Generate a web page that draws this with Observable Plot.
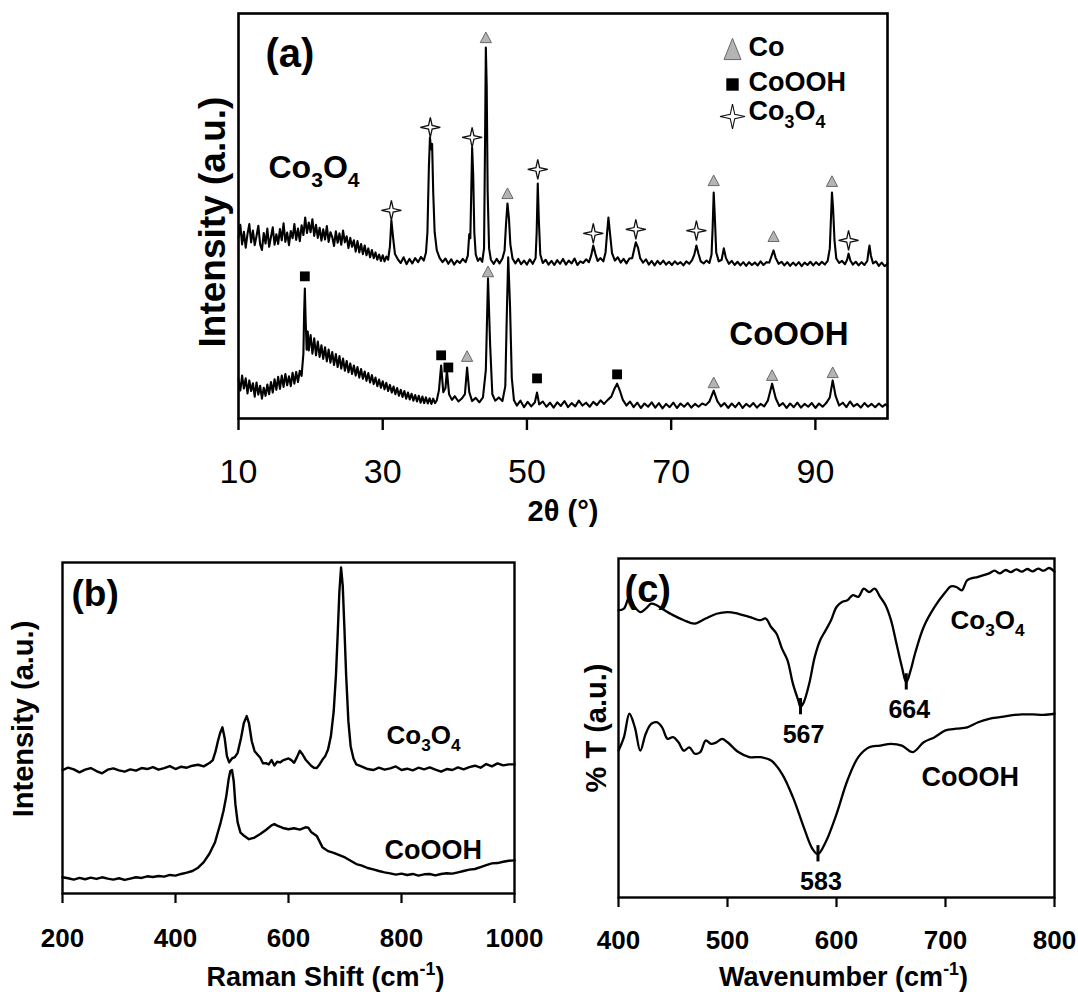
<!DOCTYPE html>
<html><head><meta charset="utf-8">
<script src="https://cdn.jsdelivr.net/npm/d3@7"></script>
<script src="https://cdn.jsdelivr.net/npm/@observablehq/plot@0.6"></script>
<style>
body{margin:0;background:#fff;}
#fig{position:relative;width:1078px;height:992px;overflow:hidden;background:#fff;}
#fig svg{position:absolute;overflow:visible;max-width:none;}
</style></head><body><div id="fig"></div>
<script>
// ---------- DATA ----------
const ticksA = [10, 30, 50, 70, 90];
const ticksB = [200, 400, 600, 800, 1000];
const ticksC = [400, 500, 600, 700, 800];

// (a) XRD, 2θ (°) vs intensity (a.u.)
const xrdCo3O4 = [
[10,44.6],[10.25,47.8],[10.5,43.0],[10.75,46.1],[11,42.2],[11.25,45.6],[11.5,48.0],[11.75,43.5],[12,46.4],[12.25,42.8],[12.5,45.1],[12.75,47.6],[13,43.0],[13.25,41.6],[13.5,45.8],[13.75,43.2],[14,46.9],[14.25,42.4],[14.5,44.8],[14.75,47.2],[15,42.9],[15.25,45.5],[15.5,43.1],[15.75,46.8],[16,44.0],[16.25,48.2],[16.5,43.6],[16.75,45.9],[17,42.8],[17.25,46.3],[17.5,44.5],[17.75,48.0],[18,44.1],[18.25,46.9],[18.5,43.8],[18.75,47.7],[19,45.3],[19.25,49.6],[19.5,45.8],[19.75,48.4],[20,46.0],[20.25,49.2],[20.5,45.1],[20.75,47.8],[21,44.6],[21.25,47.1],[21.5,43.9],[21.75,46.7],[22,44.2],[22.25,47.5],[22.5,43.6],[22.75,46.0],[23,44.8],[23.25,42.6],[23.5,46.2],[23.75,43.4],[24,45.7],[24.25,42.9],[24.5,46.4],[24.75,43.5],[25,45.0],[25.25,42.1],[25.5,44.6],[25.75,42.4],[26,44.0],[26.25,41.2],[26.5,43.8],[26.75,41.0],[27,43.1],[27.25,40.6],[27.5,42.7],[27.75,40.3],[28,42.0],[28.25,39.8],[28.5,41.6],[28.75,39.6],[29,41.0],[29.25,39.2],[29.5,40.5],[29.75,38.9],[30,40.3],[30.25,38.8],[30.5,40.0],[30.75,39.2],[31.0,42.5],[31.2,48.9],[31.45,44.5],[31.7,40.6],[32.1,39.3],[32.5,38.4],[32.9,39.8],[33.3,38.1],[33.7,39.4],[34.1,38.3],[34.5,39.6],[34.9,38.6],[35.3,39.9],[35.7,39.0],[36.0,41.0],[36.2,46.0],[36.4,62.0],[36.55,69.4],[36.7,66.5],[36.85,67.8],[37.0,56.0],[37.2,46.0],[37.5,41.5],[37.9,39.6],[38.3,38.6],[38.7,39.5],[39.1,38.2],[39.5,39.3],[39.9,38.0],[40.3,39.0],[40.7,38.4],[41.1,39.4],[41.5,38.6],[41.8,40.2],[42.0,45.5],[42.15,44.5],[42.3,58.0],[42.4,66.9],[42.55,60.0],[42.7,46.0],[42.9,40.5],[43.2,38.9],[43.5,39.6],[43.8,38.7],[44.05,42.0],[44.2,70.0],[44.3,91.6],[44.42,82.0],[44.55,56.0],[44.75,42.0],[45.0,39.2],[45.4,38.2],[45.8,39.4],[46.2,38.3],[46.6,39.5],[46.9,41.5],[47.1,48.0],[47.3,53.1],[47.5,49.5],[47.7,43.0],[48.0,39.5],[48.4,38.3],[48.8,39.4],[49.2,38.1],[49.6,39.0],[50.0,38.0],[50.4,39.3],[50.8,38.2],[51.2,39.6],[51.35,46.0],[51.5,58.0],[51.65,49.0],[51.85,40.5],[52.2,38.4],[52.6,39.2],[53.0,38.0],[53.4,38.9],[53.8,37.9],[54.2,39.1],[54.6,38.2],[55.0,39.4],[55.4,38.0],[55.8,39.0],[56.2,38.3],[56.6,39.5],[57.0,37.9],[57.4,38.8],[57.8,38.4],[58.2,39.3],[58.6,38.6],[58.9,40.2],[59.2,42.7],[59.5,40.6],[59.8,38.9],[60.2,39.6],[60.6,38.8],[60.9,41.0],[61.1,45.5],[61.3,49.6],[61.5,46.0],[61.8,40.8],[62.2,39.0],[62.6,39.8],[63.0,38.5],[63.4,39.4],[63.8,38.3],[64.2,39.5],[64.6,39.6],[64.9,42.0],[65.1,43.5],[65.4,42.2],[65.7,39.6],[66.1,38.5],[66.5,39.3],[66.9,38.0],[67.3,38.9],[67.7,37.8],[68.1,38.9],[68.5,38.1],[68.9,39.0],[69.3,38.0],[69.7,38.7],[70.1,37.9],[70.5,38.8],[70.9,38.1],[71.3,38.6],[71.7,37.8],[72.1,38.8],[72.5,38.2],[72.9,39.1],[73.2,40.4],[73.5,42.7],[73.8,40.6],[74.1,38.8],[74.5,38.3],[74.9,39.0],[75.3,38.4],[75.6,40.5],[75.75,47.0],[75.9,55.8],[76.05,50.0],[76.25,41.0],[76.6,38.8],[77.0,39.2],[77.3,42.0],[77.6,39.6],[78.0,38.2],[78.4,38.9],[78.8,37.9],[79.2,38.7],[79.6,37.8],[80.0,38.6],[80.4,37.7],[80.8,38.6],[81.2,37.9],[81.6,38.5],[82.0,37.8],[82.4,38.8],[82.8,37.9],[83.2,38.6],[83.6,38.5],[83.9,40.0],[84.2,41.5],[84.5,39.6],[84.9,38.2],[85.3,38.7],[85.7,37.8],[86.1,38.6],[86.5,37.7],[86.9,38.5],[87.3,37.8],[87.7,38.6],[88.1,37.6],[88.5,38.5],[88.9,37.9],[89.3,38.7],[89.7,37.8],[90.1,38.6],[90.5,37.9],[90.9,38.7],[91.3,38.0],[91.7,38.9],[92.0,42.0],[92.15,49.0],[92.3,55.8],[92.45,52.0],[92.65,44.0],[92.9,39.5],[93.3,38.4],[93.7,38.9],[94.1,38.1],[94.4,39.2],[94.6,40.7],[94.85,39.0],[95.2,38.0],[95.6,38.7],[96.0,37.8],[96.4,38.6],[96.8,37.9],[97.2,38.9],[97.35,41.0],[97.5,42.7],[97.7,40.2],[98.0,38.3],[98.4,38.8],[98.8,37.7],[99.2,38.5],[99.6,37.6],[100,38.2]
];
const xrdCoOOH = [
[10,9.8],[10.25,6.9],[10.5,10.6],[10.75,7.4],[11,9.9],[11.25,6.2],[11.5,9.4],[11.75,6.8],[12,8.7],[12.25,5.4],[12.5,8.9],[12.75,5.9],[13,8.1],[13.25,4.9],[13.5,7.6],[13.75,5.6],[14,8.4],[14.25,6.0],[14.5,9.0],[14.75,6.4],[15,9.7],[15.25,7.1],[15.5,10.3],[15.75,7.3],[16,10.6],[16.25,7.8],[16.5,11.0],[16.75,8.2],[17,10.4],[17.25,8.0],[17.5,11.3],[17.75,8.6],[18,11.5],[18.25,9.0],[18.5,11.8],[18.75,10.5],[19.0,16.0],[19.1,26.0],[19.2,32.1],[19.3,25.0],[19.45,17.0],[19.6,21.5],[19.75,16.8],[20,20.6],[20.25,16.0],[20.5,19.8],[20.75,15.6],[21,19.0],[21.25,15.2],[21.5,18.1],[21.75,14.7],[22,17.6],[22.25,14.1],[22.5,17.0],[22.75,13.8],[23,16.4],[23.25,13.2],[23.5,15.9],[23.75,12.7],[24,15.4],[24.25,12.3],[24.5,14.8],[24.75,11.8],[25,14.2],[25.25,11.4],[25.5,13.6],[25.75,11.0],[26,13.1],[26.25,10.6],[26.5,12.7],[26.75,10.1],[27,12.2],[27.25,9.8],[27.5,11.6],[27.75,9.3],[28,11.2],[28.25,8.9],[28.5,10.7],[28.75,8.5],[29,10.1],[29.25,8.0],[29.5,9.6],[29.75,7.6],[30,9.2],[30.25,7.2],[30.5,8.8],[30.75,6.8],[31,8.3],[31.25,6.4],[31.5,7.9],[31.75,6.0],[32,7.5],[32.25,5.6],[32.5,7.1],[32.75,5.3],[33,6.8],[33.25,4.9],[33.5,6.4],[33.75,4.7],[34,6.1],[34.25,4.4],[34.5,5.8],[34.75,4.2],[35,5.6],[35.25,3.9],[35.5,5.4],[35.75,3.8],[36,5.2],[36.25,3.7],[36.5,5.0],[36.75,3.6],[37,4.9],[37.25,3.8],[37.5,4.5],[37.8,7.0],[38.1,13.1],[38.4,6.5],[38.7,7.5],[38.9,11.9],[39.2,6.0],[39.6,4.6],[40.0,5.5],[40.5,4.2],[41.0,5.0],[41.4,6.0],[41.7,12.6],[42.0,6.5],[42.4,4.3],[42.9,5.1],[43.4,4.0],[43.9,5.2],[44.3,12.0],[44.6,34.6],[44.9,18.0],[45.2,6.0],[45.6,4.4],[46.1,5.2],[46.6,4.3],[47.0,8.0],[47.2,25.0],[47.4,39.8],[47.65,28.0],[47.9,10.0],[48.2,4.5],[48.6,3.2],[49.1,4.4],[49.6,2.8],[50.1,4.1],[50.6,3.0],[51.1,4.0],[51.4,6.4],[51.7,3.5],[52.2,4.2],[52.7,2.9],[53.2,3.9],[53.7,2.7],[54.2,4.0],[54.7,3.1],[55.2,4.3],[55.7,2.8],[56.2,3.8],[56.7,3.0],[57.2,4.4],[57.7,3.2],[58.2,3.9],[58.7,2.9],[59.2,4.1],[59.7,3.3],[60.2,4.5],[60.7,3.6],[61.2,4.6],[61.7,5.4],[62.1,7.2],[62.5,8.6],[62.9,6.8],[63.3,4.6],[63.8,3.2],[64.3,4.2],[64.8,2.8],[65.3,3.9],[65.8,2.6],[66.3,3.7],[66.8,2.9],[67.3,4.0],[67.8,2.7],[68.3,3.8],[68.8,2.5],[69.3,3.6],[69.8,2.8],[70.3,3.9],[70.8,2.6],[71.3,3.7],[71.8,2.9],[72.3,3.8],[72.8,2.7],[73.3,3.6],[73.8,2.9],[74.3,3.7],[74.8,3.3],[75.3,4.2],[75.9,6.9],[76.4,4.3],[76.9,3.0],[77.4,3.8],[77.9,2.6],[78.4,3.7],[78.9,2.8],[79.4,3.9],[79.9,2.6],[80.4,3.6],[80.9,2.9],[81.4,3.8],[81.9,2.7],[82.4,3.6],[82.9,3.0],[83.4,4.4],[84.0,8.6],[84.5,5.0],[85.0,3.1],[85.5,3.8],[86.0,2.6],[86.5,3.7],[87.0,2.8],[87.5,3.9],[88.0,2.7],[88.5,3.6],[89.0,2.9],[89.5,3.8],[90.0,2.6],[90.5,3.7],[91.0,2.9],[91.5,3.8],[92.0,5.2],[92.4,9.4],[92.8,5.6],[93.3,3.2],[93.8,3.9],[94.3,2.8],[94.8,4.2],[95.3,3.0],[95.8,3.6],[96.3,2.7],[96.8,3.8],[97.3,2.9],[97.8,3.6],[98.3,2.8],[98.8,3.7],[99.3,2.9],[99.7,3.5],[100,3.0]
];
// phase markers (2θ, intensity, phase)
const xrdMarkers = [
{x:31.2,y:51.4,phase:"Co3O4"},{x:36.6,y:71.9,phase:"Co3O4"},{x:42.4,y:69.4,phase:"Co3O4"},
{x:44.3,y:93.8,phase:"Co"},{x:47.3,y:55.3,phase:"Co"},{x:51.5,y:61.5,phase:"Co3O4"},
{x:59.2,y:45.7,phase:"Co3O4"},{x:65.1,y:46.7,phase:"Co3O4"},{x:73.5,y:46.4,phase:"Co3O4"},
{x:75.9,y:58.5,phase:"Co"},{x:84.2,y:44.7,phase:"Co"},{x:92.3,y:58.3,phase:"Co"},
{x:94.6,y:44.0,phase:"Co3O4"},
{x:19.2,y:35.1,phase:"CoOOH"},{x:38.1,y:15.6,phase:"CoOOH"},{x:39.1,y:12.6,phase:"CoOOH"},
{x:41.7,y:15.1,phase:"Co"},{x:44.6,y:36.0,phase:"Co"},{x:51.4,y:9.9,phase:"CoOOH"},
{x:62.5,y:10.9,phase:"CoOOH"},{x:75.9,y:8.6,phase:"Co"},{x:84.0,y:10.4,phase:"Co"},
{x:92.4,y:11.1,phase:"Co"}
];
const legendPhases = ["Co", "CoOOH", "Co3O4"];

// (b) Raman, shift (cm-1) vs intensity (a.u.)
const ramanCo3O4 = [
[200,37.3],[210,38.0],[220,37.5],[230,36.6],[240,37.4],[250,37.9],[260,37.0],[270,36.3],[280,37.4],[290,37.8],[300,37.2],[310,36.8],[320,37.5],[330,37.1],[340,37.9],[350,37.6],[360,38.2],[370,37.4],[380,37.9],[390,38.5],[400,37.6],[410,38.3],[420,38.0],[430,38.6],[440,38.9],[450,38.4],[460,39.4],[466,40.3],[471,43.0],[475,46.0],[479,48.5],[483,50.2],[487,47.0],[491,41.5],[495,39.6],[500,40.8],[505,41.2],[510,42.5],[516,47.0],[521,51.5],[526,53.6],[530,51.5],[535,46.0],[540,43.0],[545,42.0],[550,41.0],[555,39.3],[560,39.4],[565,39.0],[570,40.3],[575,38.7],[580,39.8],[585,39.6],[590,40.2],[600,40.8],[605,40.3],[610,39.5],[615,41.2],[620,43.1],[625,42.0],[630,40.5],[640,38.6],[645,38.0],[650,37.9],[655,39.0],[660,40.4],[665,41.5],[670,43.5],[675,47.5],[680,55.0],[684,66.0],[687,78.0],[690,91.0],[693,98.5],[696,93.0],[699,80.0],[702,66.0],[706,52.0],[710,44.5],[715,40.8],[720,39.0],[730,38.3],[740,37.6],[750,37.3],[760,38.0],[770,37.4],[780,37.8],[790,38.4],[800,37.3],[810,37.7],[820,37.2],[830,38.0],[840,37.5],[850,38.1],[860,37.4],[870,36.8],[880,37.6],[890,37.3],[900,38.1],[910,37.5],[920,38.2],[930,38.6],[940,38.0],[950,39.1],[960,38.4],[970,39.3],[980,38.7],[990,39.0],[1000,39.0]
];
const ramanCoOOH = [
[200,4.9],[210,4.6],[220,4.2],[230,4.7],[240,4.3],[250,4.8],[260,4.4],[270,4.9],[280,4.5],[290,4.2],[300,4.6],[310,4.1],[320,4.5],[330,4.9],[340,4.7],[350,5.2],[360,5.0],[370,5.3],[380,5.1],[390,5.6],[400,5.4],[410,5.9],[420,6.3],[430,6.8],[440,7.8],[450,9.5],[460,12.0],[470,15.5],[475,18.5],[480,21.5],[485,25.0],[490,29.5],[494,34.5],[497,37.0],[500,37.3],[503,34.0],[506,27.0],[510,21.5],[515,18.4],[520,17.6],[530,16.4],[540,16.9],[550,18.0],[560,19.2],[570,20.6],[575,21.0],[580,20.5],[590,19.8],[600,19.4],[610,19.7],[620,19.3],[630,20.0],[635,19.9],[640,18.6],[650,17.4],[660,14.0],[670,12.8],[680,12.3],[690,11.6],[700,10.9],[710,9.9],[720,8.9],[730,8.4],[740,7.7],[750,7.3],[760,6.8],[770,6.4],[780,6.1],[790,5.7],[800,6.0],[810,5.6],[820,5.9],[830,5.4],[840,5.8],[850,5.9],[860,5.5],[870,5.9],[880,6.1],[890,6.0],[900,6.4],[910,6.8],[920,7.2],[930,7.4],[940,8.0],[950,8.6],[960,9.1],[970,9.2],[980,9.6],[990,9.9],[1000,10.0]
];

// (c) FTIR, wavenumber (cm-1) vs % T (a.u.)
const ftirCo3O4 = [
[400,84.7],[405,85.2],[410,88.7],[415,85.7],[420,84.2],[425,85.2],[430,86.7],[435,86.2],[440,85.2],[450,83.3],[460,81.8],[470,80.8],[480,82.3],[490,83.7],[500,84.2],[510,83.7],[520,82.8],[530,81.8],[535,82.3],[540,79.8],[545,77.8],[550,73.4],[555,70.0],[560,63.1],[565,58.1],[567,56.2],[570,57.6],[575,63.1],[580,70.9],[585,75.9],[590,78.8],[595,81.8],[600,85.7],[605,87.2],[610,87.7],[615,89.2],[620,88.7],[625,91.1],[630,90.1],[635,91.1],[640,88.7],[645,86.2],[650,81.8],[655,74.9],[660,68.0],[664,63.5],[668,67.0],[672,71.9],[680,79.8],[690,85.7],[700,90.1],[705,91.8],[710,91.6],[715,90.6],[720,93.6],[730,94.6],[740,95.6],[745,96.4],[750,95.6],[755,96.6],[760,96.0],[765,96.8],[770,96.1],[775,96.9],[780,96.2],[785,97.0],[790,96.4],[795,97.2],[800,96.1]
];
const ftirCoOOH = [
[400,43.3],[405,47.3],[410,54.2],[415,50.2],[420,43.3],[425,48.3],[430,51.2],[435,51.7],[440,50.2],[445,46.8],[450,47.3],[455,45.8],[460,43.3],[465,44.3],[470,42.4],[475,42.9],[480,46.3],[485,45.3],[490,45.8],[495,46.8],[500,45.8],[510,42.9],[520,41.4],[530,41.4],[540,40.4],[550,36.5],[560,29.6],[570,20.7],[578,14.3],[583,12.8],[590,16.3],[600,24.6],[610,34.5],[620,41.4],[630,44.3],[640,44.8],[650,45.3],[660,44.8],[670,42.9],[680,45.8],[690,47.3],[700,49.3],[710,49.8],[720,50.2],[730,51.7],[740,52.7],[750,53.2],[760,53.7],[770,54.0],[780,54.0],[790,53.9],[800,54.2]
];
const ftirPeaks = [
{wn:567, series:"Co3O4"}, {wn:664, series:"Co3O4"}, {wn:583, series:"CoOOH"}
];

// ---------- RENDER ----------
const FONT = '"Liberation Sans", Arial, Helvetica, sans-serif';
const fig = document.getElementById("fig");
const fmt = d => String(d);

function tri(k){return {draw(ctx,size){const r=Math.sqrt(size/Math.PI),h=2*r*k;ctx.moveTo(0,-h*0.62);ctx.lineTo(r,h*0.38);ctx.lineTo(-r,h*0.38);ctx.closePath();}};}
const sq = {draw(ctx,size){const r=Math.sqrt(size/Math.PI);ctx.rect(-r,-r,2*r,2*r);}};
const star4 = {draw(ctx,size){const R=Math.sqrt(size/Math.PI),q=R*0.18;ctx.moveTo(0,-R);ctx.lineTo(q,-q);ctx.lineTo(R,0);ctx.lineTo(q,q);ctx.lineTo(0,R);ctx.lineTo(-q,q);ctx.lineTo(-R,0);ctx.lineTo(-q,-q);ctx.closePath();}};

const markStyle = {
  Co:    {symbol: tri(0.95), r: 5.6, fill: "#b4b4b4", stroke: "#6a6a6a", strokeWidth: 1},
  CoOOH: {symbol: sq, r: 4.9, fill: "#000", stroke: "none"},
  Co3O4: {symbol: star4, r: 10, fill: "#fff", stroke: "#111", strokeWidth: 1.3}
};
const legendStyle = {
  Co:    {symbol: tri(1.25), r: 8.5, fill: "#b4b4b4", stroke: "#6a6a6a", strokeWidth: 1},
  CoOOH: {symbol: sq, r: 6.2, fill: "#000", stroke: "none"},
  Co3O4: {symbol: star4, r: 12.5, fill: "#fff", stroke: "#111", strokeWidth: 1.1}
};
const legendLabel = {Co: "Co", CoOOH: "CoOOH", Co3O4: "Co_{3}O_{4}"};

function label(str, opts){ return Plot.text([str], {text: d => d, lineAnchor: "middle", fill: "#000", ...opts}); }

function place(svg, left, top){ svg.style.left = left + "px"; svg.style.top = top + "px"; fig.appendChild(svg); rich(svg); }

function rich(svg){
  const ns = "http://www.w3.org/2000/svg";
  svg.querySelectorAll("text").forEach(t => {
    const s = t.textContent;
    if (!/[_^]\{/.test(s)) return;
    const fs = parseFloat(getComputedStyle(t).fontSize) || 20;
    while (t.firstChild) t.removeChild(t.firstChild);
    let shift = 0;
    const add = (str, kind) => {
      const ts = document.createElementNS(ns, "tspan");
      ts.textContent = str;
      const target = kind === "_" ? fs * 0.28 : kind === "^" ? -fs * 0.42 : 0;
      ts.setAttribute("dy", (target - shift).toFixed(2));
      shift = target;
      if (kind) ts.setAttribute("font-size", (fs * 0.66).toFixed(1));
      t.appendChild(ts);
    };
    const re = /([_^])\{([^}]*)\}/g; let last = 0, m;
    while ((m = re.exec(s))) { if (m.index > last) add(s.slice(last, m.index), null); add(m[2], m[1]); last = re.lastIndex; }
    if (last < s.length) add(s.slice(last), null);
  });
}

// ---- panel (a)
const legendMarks = legendPhases.flatMap((p, i) => [
  Plot.dot([p], {frameAnchor: "top-right", dx: -155, dy: [38, 71, 103][i], ...legendStyle[p]}),
  label(legendLabel[p], {frameAnchor: "top-right", textAnchor: "start", dx: -139, dy: [34, 69, 98][i], fontSize: 27, fontWeight: "bold"})
]);
const plotA = Plot.plot({
  width: 1078, height: 520, marginLeft: 238, marginRight: 191, marginTop: 13, marginBottom: 102,
  x: {domain: [10, 100]}, y: {domain: [0, 100], axis: null},
  style: {fontFamily: FONT, background: "transparent", overflow: "visible"},
  marks: [
    Plot.line(xrdCo3O4, {x: d => d[0], y: d => d[1], stroke: "#000", strokeWidth: 2.1}),
    Plot.line(xrdCoOOH, {x: d => d[0], y: d => d[1], stroke: "#000", strokeWidth: 2.1}),
    ...["Co", "CoOOH", "Co3O4"].map(p => Plot.dot(xrdMarkers.filter(d => d.phase === p), {x: "x", y: "y", ...markStyle[p]})),
    ...legendMarks,
    Plot.frame({stroke: "#000", strokeWidth: 2.6}),
    Plot.axisX({ticks: ticksA, tickFormat: fmt, tickSize: 12, tickPadding: 28, fontSize: 34, label: null, strokeWidth: 2.4}),
    label("(a)", {frameAnchor: "top-left", textAnchor: "start", dx: 27, dy: 41, fontSize: 40, fontWeight: "bold"}),
    label("Co_{3}O_{4}", {frameAnchor: "top-left", textAnchor: "start", dx: 30, dy: 154, fontSize: 32, fontWeight: "bold"}),
    label("CoOOH", {frameAnchor: "top-right", textAnchor: "end", dx: -39, dy: 321, fontSize: 33, fontWeight: "bold"}),
    label("Intensity (a.u.)", {frameAnchor: "left", textAnchor: "middle", rotate: -90, dx: -25, dy: 6, fontSize: 37, fontWeight: "bold"}),
    label("2θ (°)", {frameAnchor: "bottom", textAnchor: "middle", dy: 93, fontSize: 29, fontWeight: "bold"})
  ]
});
place(plotA, 0, 0);

// ---- panel (b)
const plotB = Plot.plot({
  width: 540, height: 472, marginLeft: 62, marginRight: 26, marginTop: 42, marginBottom: 99,
  x: {domain: [200, 1000]}, y: {domain: [0, 100], axis: null},
  style: {fontFamily: FONT, background: "transparent", overflow: "visible"},
  marks: [
    Plot.line(ramanCo3O4, {x: d => d[0], y: d => d[1], stroke: "#000", strokeWidth: 2.4}),
    Plot.line(ramanCoOOH, {x: d => d[0], y: d => d[1], stroke: "#000", strokeWidth: 2.4}),
    Plot.frame({stroke: "#000", strokeWidth: 2.4}),
    Plot.axisX({ticks: ticksB, tickFormat: fmt, tickSize: 10, tickPadding: 25, fontSize: 26, fontWeight: "bold", label: null, strokeWidth: 2.2}),
    label("(b)", {frameAnchor: "top-left", textAnchor: "start", dx: 9, dy: 32, fontSize: 37, fontWeight: "bold"}),
    label("Co_{3}O_{4}", {frameAnchor: "top-left", textAnchor: "start", dx: 324, dy: 173, fontSize: 26, fontWeight: "bold"}),
    label("CoOOH", {frameAnchor: "top-left", textAnchor: "start", dx: 322, dy: 288, fontSize: 27, fontWeight: "bold"}),
    label("Intensity (a.u.)", {frameAnchor: "left", textAnchor: "middle", rotate: -90, dx: -39, dy: -9, fontSize: 29, fontWeight: "bold"}),
    label("Raman Shift (cm^{-1})", {frameAnchor: "bottom", textAnchor: "middle", dx: 37, dy: 84, fontSize: 27, fontWeight: "bold"})
  ]
});
place(plotB, 0, 520);

// ---- panel (c)
const ftirSeries = {Co3O4: ftirCo3O4, CoOOH: ftirCoOOH};
const peaksC = ftirPeaks.map(p => ({...p, v: ftirSeries[p.series].find(d => d[0] === p.wn)[1]}));
const plotC = Plot.plot({
  width: 538, height: 472, marginLeft: 78, marginRight: 24, marginTop: 38, marginBottom: 95,
  x: {domain: [400, 800]}, y: {domain: [0, 100], axis: null},
  style: {fontFamily: FONT, background: "transparent", overflow: "visible"},
  marks: [
    Plot.line(ftirCo3O4, {x: d => d[0], y: d => d[1], stroke: "#000", strokeWidth: 2.3, curve: "catmull-rom"}),
    Plot.line(ftirCoOOH, {x: d => d[0], y: d => d[1], stroke: "#000", strokeWidth: 2.3, curve: "catmull-rom"}),
    Plot.ruleX(peaksC, {x: "wn", y1: d => d.v + 2.5, y2: d => d.v - 2.3, stroke: "#000", strokeWidth: 3}),
    Plot.text(peaksC, {x: "wn", y: "v", text: d => String(d.wn), dx: 3, dy: 28, fontSize: 25, fontWeight: "bold", fill: "#000"}),
    Plot.frame({stroke: "#000", strokeWidth: 2.4}),
    Plot.axisX({ticks: ticksC, tickFormat: fmt, tickSize: 10, tickPadding: 23, fontSize: 26, fontWeight: "bold", label: null, strokeWidth: 2.2}),
    label("(c)", {frameAnchor: "top-left", textAnchor: "start", dx: 6, dy: 31, fontSize: 38, fontWeight: "bold"}),
    label("Co_{3}O_{4}", {frameAnchor: "top-left", textAnchor: "start", dx: 332, dy: 62, fontSize: 26, fontWeight: "bold"}),
    label("CoOOH", {frameAnchor: "top-left", textAnchor: "start", dx: 303, dy: 219, fontSize: 27, fontWeight: "bold"}),
    label("% T (a.u.)", {frameAnchor: "left", textAnchor: "middle", rotate: -90, dx: -22, dy: 0, fontSize: 29, fontWeight: "bold"}),
    label("Wavenumber (cm^{-1})", {frameAnchor: "bottom", textAnchor: "middle", dx: 7, dy: 80, fontSize: 27, fontWeight: "bold"})
  ]
});
place(plotC, 540, 520);
</script></body></html>
